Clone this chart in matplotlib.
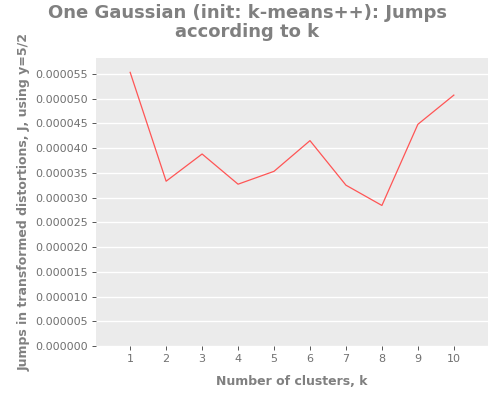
import matplotlib
matplotlib.use("Agg")
import matplotlib.pyplot as plt

k = [1, 2, 3, 4, 5, 6, 7, 8, 9, 10]
jumps = [0.0000553, 0.0000333, 0.0000388, 0.0000327, 0.0000353,
         0.0000415, 0.0000325, 0.0000284, 0.0000448, 0.0000507]
yticks = [i * 0.000005 for i in range(12)]

fig = plt.figure(figsize=(5, 4), dpi=100)
ax = fig.add_axes([0.192, 0.135, 0.784, 0.72])
ax.set_facecolor("#ebebeb")
ax.plot(k, jumps, color="#ff5555", lw=0.9)
ax.set_xlim(0.05, 10.95)
ax.set_ylim(0, 0.0000582)
ax.set_xticks(k)
ax.set_yticks(yticks)
ax.set_yticklabels([f"{v:.6f}" for v in yticks])
ax.yaxis.grid(True, color="white", lw=1)
ax.xaxis.grid(False)
ax.set_axisbelow(True)
for s in ax.spines.values():
    s.set_visible(False)
ax.tick_params(colors="#555555", labelsize=8, length=3, width=0.7, pad=3)
for t in ax.get_xticklabels() + ax.get_yticklabels():
    t.set_color("#707070")
ax.set_xlabel("Number of clusters, k", color="#808080", fontsize=9, fontweight="bold", labelpad=8)
ax.set_ylabel("Jumps in transformed distortions, J, using y=5/2", color="#808080",
              fontsize=9, fontweight="bold", labelpad=3)
fig.suptitle("One Gaussian (init: k-means++): Jumps\naccording to k", color="#808080",
             fontsize=13, fontweight="bold", x=0.495, y=0.99, linespacing=1.05)
fig.savefig("out.png")
